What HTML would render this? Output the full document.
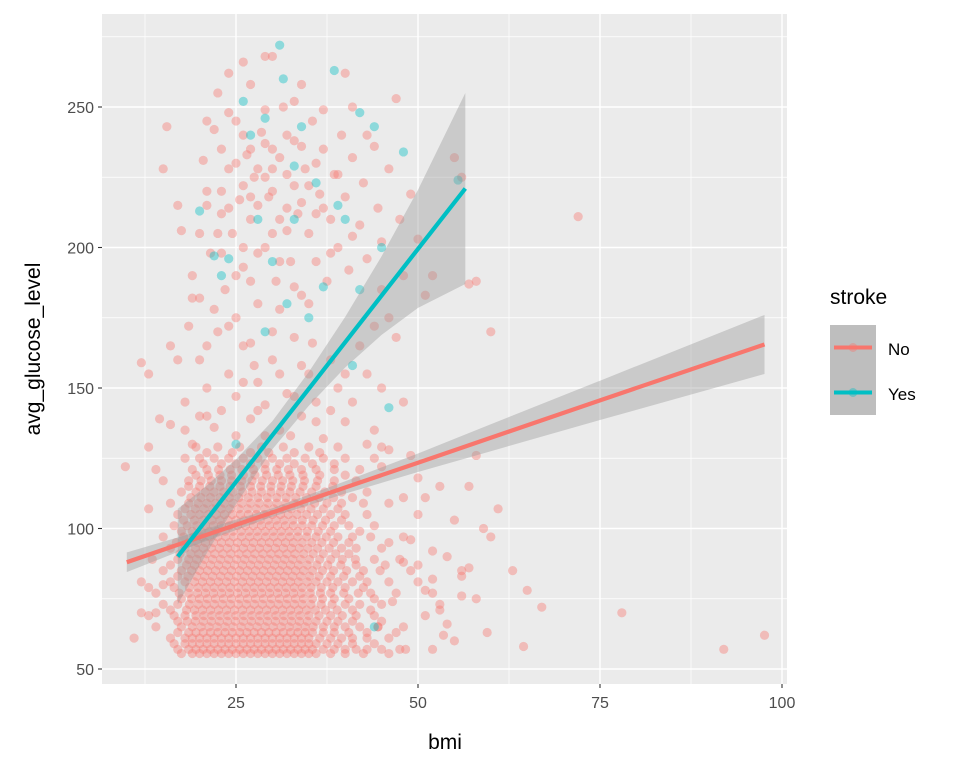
<!DOCTYPE html>
<html><head><meta charset="utf-8">
<style>
body{margin:0;background:#fff;}
svg{display:block;font-family:"Liberation Sans",Arial,sans-serif;}
</style></head>
<body>
<svg id="chart" width="960" height="768" viewBox="0 0 960 768">
  <rect x="102" y="14" width="685" height="670" fill="#EBEBEB"/>
  <g id="grid"></g>
  <g id="pts"></g>
  <g id="smooth"></g>
  <g id="axes"></g>
  <text x="445" y="749" text-anchor="middle" font-size="21" fill="#000">bmi</text>
  <text transform="translate(40,349) rotate(-90)" text-anchor="middle" font-size="21" fill="#000">avg_glucose_level</text>
  <g>
    <text x="830" y="304" font-size="21" fill="#000">stroke</text>
    <g>
      <rect x="830" y="325" width="46" height="45" fill="#BEBEBE"/>
      <circle cx="853" cy="347.5" r="4.5" fill="#F8766D" fill-opacity="0.4"/>
      <line x1="834" y1="347.5" x2="872" y2="347.5" stroke="#F8766D" stroke-width="4"/>
      <text x="888" y="355" font-size="17" fill="#000">No</text>
    </g>
    <g>
      <rect x="830" y="370" width="46" height="45" fill="#BEBEBE"/>
      <circle cx="853" cy="392.5" r="4.5" fill="#00BFC4" fill-opacity="0.4"/>
      <line x1="834" y1="392.5" x2="872" y2="392.5" stroke="#00BFC4" stroke-width="4"/>
      <text x="888" y="400" font-size="17" fill="#000">Yes</text>
    </g>
  </g>
</svg>
<script>
const xTicks=[25,50,75,100];
const xMinor=[12.5,37.5,62.5,87.5];
const yTicks=[50,100,150,200,250];
const yMinor=[75,125,175,225,275];
// dense core rows: glucose value -> list of bmi values
const coreRows="57:17,18.5,19.5,20.5,21.5,22.5,23.5,24.5,25.5,26.5,27.5,28.5,29.5,30.5,31.5,32.5,33.5,34.5,35.5,37,38.5,40,41.5,43,45,47.5|61:16,18,19,20,21,22,23,24,25,26,27,28,29,30,31,32,33,34,35,36.5,38,39.5,41,43,46|65:14,17.5,19,20.2,21.3,22.4,23.5,24.6,25.7,26.8,27.9,29,30.1,31.2,32.3,33.4,34.5,35.6,37,38.5,40,42,44.5,48|69:13,16.5,18,19.5,20.6,21.7,22.8,23.9,25,26.1,27.2,28.3,29.4,30.5,31.6,32.7,33.8,35,36.4,38,39.6,41.5,44,51|73:15,17,18.6,19.8,20.9,22,23.1,24.2,25.3,26.4,27.5,28.6,29.7,30.8,31.9,33,34.1,35.3,36.7,38.2,40,42,45,53|77:14,17.2,18.5,19.7,20.8,21.9,23,24.1,25.2,26.3,27.4,28.5,29.6,30.7,31.8,32.9,34,35.2,36.6,38,39.8,41.8,43.5,47,52|81:12,16,18,19.3,20.4,21.5,22.6,23.7,24.8,25.9,27,28.1,29.2,30.3,31.4,32.5,33.6,34.8,36,37.5,39,41,43,46,50|85:15,17.5,18.9,20,21.1,22.2,23.3,24.4,25.5,26.6,27.7,28.8,29.9,31,32.1,33.2,34.3,35.5,36.9,38.4,40.2,42.5,44.8,49,56|89:13.5,17,18.5,19.6,20.7,21.8,22.9,24,25.1,26.2,27.3,28.4,29.5,30.6,31.7,32.8,33.9,35.1,36.5,38,39.6,41.4,44,47.5|93:16,18,19.4,20.5,21.6,22.7,23.8,24.9,26,27.1,28.2,29.3,30.4,31.5,32.6,33.7,34.9,36.2,37.8,39.5,41.5,45|97:15,17.8,19.2,20.3,21.4,22.5,23.6,24.7,25.8,26.9,28,29.1,30.2,31.3,32.4,33.5,34.7,36,37.4,39,41,43.5,48|101:16.5,18.3,19.6,20.8,21.9,23,24.1,25.2,26.3,27.4,28.5,29.6,30.7,31.8,32.9,34.1,35.4,36.9,38.5,40.5,44|105:17,18.8,20,21.2,22.3,23.4,24.5,25.6,26.7,27.8,28.9,30,31.1,32.2,33.4,34.7,36.2,38,40,43|109:16,18.5,19.8,21,22.2,23.4,24.6,25.8,27,28.2,29.4,30.6,31.8,33,34.3,35.8,37.5,39.5,42.5,46|113:17.5,19.5,20.8,22,23.3,24.6,25.9,27.2,28.5,29.8,31.1,32.4,33.8,35.4,37.2,39.5,43|117:15,18.5,20.2,21.6,23,24.4,25.8,27.2,28.6,30,31.4,32.8,34.4,36.2,38.5,41.5|121:14,19,21,22.6,24.2,25.8,27.4,29,30.6,32.2,34,36,38.5,42|125:18,20,22,24,26,28,30,32,34.5,37,40,44|129:13,19.5,22.5,25.5,28.5,31.5,35,39,45";
const coreRows2="55.5:17.5,19,20,21,22,23,24,25,26,27,28,29,30,31,32,33,34,35,36,38,40,42.5,46|59:16.5,18,19,20,21,22,23,24,25,26,27,28,29,30,31,32,33,34,35,36,37.5,39,41,44|63:17,18.5,19.5,20.5,21.5,22.5,23.5,24.5,25.5,26.5,27.5,28.5,29.5,30.5,31.5,32.5,33.5,34.5,35.5,37,38.5,40.5,43|67:17,18.3,19.4,20.5,21.6,22.7,23.8,24.9,26,27.1,28.2,29.3,30.4,31.5,32.6,33.7,34.8,36,37.5,39,41,45|71:16,18.2,19.3,20.4,21.5,22.6,23.7,24.8,25.9,27,28.1,29.2,30.3,31.4,32.5,33.6,34.7,35.9,37.3,38.9,41,43.5|75:17.5,18.9,20,21.1,22.2,23.3,24.4,25.5,26.6,27.7,28.8,29.9,31,32.1,33.2,34.3,35.5,36.9,38.5,40.5,44|79:16.5,18.6,19.8,20.9,22,23.1,24.2,25.3,26.4,27.5,28.6,29.7,30.8,31.9,33,34.1,35.3,36.7,38.3,40,42.5|83:17,18.4,19.6,20.7,21.8,22.9,24,25.1,26.2,27.3,28.4,29.5,30.6,31.7,32.8,33.9,35.1,36.4,38,39.8,42|87:16,18.2,19.3,20.4,21.5,22.6,23.7,24.8,25.9,27,28.1,29.2,30.3,31.4,32.5,33.6,34.8,36.1,37.6,39.4,41.5,45.5|91:17.3,18.8,19.9,21,22.1,23.2,24.3,25.4,26.5,27.6,28.7,29.8,30.9,32,33.1,34.3,35.6,37,38.7,40.5|95:16.8,18.5,19.7,20.8,21.9,23,24.1,25.2,26.3,27.4,28.5,29.6,30.7,31.8,32.9,34.1,35.4,36.8,38.4,40.5,46|99:17.5,19,20.2,21.3,22.4,23.5,24.6,25.7,26.8,27.9,29,30.1,31.2,32.3,33.5,34.8,36.3,38,42|103:17.8,19.3,20.5,21.7,22.8,23.9,25,26.1,27.2,28.3,29.4,30.5,31.6,32.8,34.1,35.6,37.3,39.5|107:18,19.4,20.6,21.8,23,24.2,25.4,26.6,27.8,29,30.2,31.4,32.6,33.9,35.3,37,39|111:18.8,20.2,21.5,22.8,24.1,25.4,26.7,28,29.3,30.6,31.9,33.2,34.7,36.4,38.4,41|115:18.5,20,21.4,22.8,24.2,25.6,27,28.4,29.8,31.2,32.6,34.2,36,38.3|119:19.5,21.2,22.8,24.4,26,27.6,29.2,30.8,32.4,34.2,36.5,40|123:20.5,23,25,27,29,31,33,35.5,38.5|127:21,24.5,27,29.5,33,36.5";
const noScatter="9.8,122;11,61;12,70;13,79;14,70;13,107;15,80;48,88;49,96;50,87;51,78;52,92;53,71;54,66;55,60;56,83;57,86;58,75;59,100;60,97;61,107;56,76;57,115;58,126;55,103;49,126;50,105;53,115;52,82;54,90;63,85;64.5,58;65,78;67,72;78,70;92,57;97.6,62;46.5,74;47,63;44.5,65;51,111;48,111;50,118;45,122;59.5,63;53.5,62;48.3,57;52,57;14.5,139;16,137;18,145;19,130;20,160;21,150;22,136;23,142;24,155;25,147;26,165;27,139;28,152;29,144;30,160;31,135;32,148;33,168;34,140;35,155;36,145;37,132;38,160;39,150;40,138;41,145;42,165;43,155;44,135;45,150;46,128;47,168;48,145;60,170;17,160;18.5,172;20,140;22.5,170;25,133;27.5,158;30,170;32.5,133;35.5,166;38,142;12,159;13,155;16,165;21,165;26,152;29,133;34,158;44,172;57,187;46,175;15,228;15.5,243;17,215;17.5,206;19,190;20,205;20.5,231;21,220;21.5,198;22,242;22.5,255;23,212;23.5,185;24,228;24.5,205;25,245;25.5,217;26,193;26.5,233;27,210;27.5,225;28,180;28.5,241;29,200;29.5,218;30,235;30.5,188;31,210;31.5,250;32,226;32.5,195;33,238;33.5,212;34,183;34.5,228;35,205;35.5,245;36,195;36.5,219;37,235;37.5,188;38,210;38.5,226;39,200;39.5,240;40,218;40.5,192;41,232;42,208;42.5,223;43,196;44,236;44.5,214;45,202;46,228;47,253;47.5,210;48,190;49,219;50,203;51,183;52,190;55,232;56,225;58,188;72,211;21,245;24,262;26,266;27,258;29,268;30,268;34,258;40,262;23,235;26,200;28,228;30,205;32,240;34,216;36,230;38,198;27,188;22,178;25,175;31,178;35,180;19,182;24,248;29,249;33,252;37,249;41,250;43,240;45,185;23,220;25,230;27,235;29,225;31,232;33,222;28,215;30,220;32,214;26,240;21,215;20,182;22.5,205;24,214;26,222;28,198;30,228;32,206;34,236;36,212;23,198;25,190;27,218;29,237;31,195;33,186;35,222;37,214;39,226;41,204;24,172;27,166;31,155;36,138;28,142;33,147;21,140;18,135;40,155;43,130";
const yesScatter="31,272;31.5,260;38.5,263;20,213;22,197;44,243;42,248;48,234;55.5,224;45,200;40,210;36,223;27,240;33,229;29,170;35,175;46,143;44,65;25,130;30,195;37,186;24,196;41,158;33,210;26,252;28,210;23,190;34,243;39,215;42,185;29,246;32,180";
// smooth fits
const noFitX=[10,20,30,40,50,60,75,97.6];
const noFitY=[88,96.9,105.7,114.6,123.4,132.3,145.6,165.5];
const noSE=[3.5,2.2,1.5,2.2,3.3,4.8,7,10.5];
const yesFitX=[17,21,25,30,35,40,45,50,56.5];
const yesFitY=[90,103.3,116.6,133.2,149.7,166.3,182.9,199.5,221];
const yesSE=[17,12,8,5,6,9,14,21,34];

const NS="http://www.w3.org/2000/svg";
const X=v=>236+(v-25)*7.28;
const Y=v=>669-(v-50)*2.81;
function mk(tag,attrs,parent){const e=document.createElementNS(NS,tag);for(const k in attrs)e.setAttribute(k,attrs[k]);parent.appendChild(e);return e;}
const grid=document.getElementById('grid');
xMinor.forEach(v=>{const l=mk('line',{x1:X(v),x2:X(v),y1:14,y2:684,stroke:'#fff','stroke-width':0.7},grid);

});
yMinor.forEach(v=>{const l=mk('line',{x1:102,x2:787,y1:Y(v),y2:Y(v),stroke:'#fff','stroke-width':0.7},grid);

});
xTicks.forEach(v=>{const l=mk('line',{x1:X(v),x2:X(v),y1:14,y2:684,stroke:'#fff','stroke-width':1.4},grid);

});
yTicks.forEach(v=>{const l=mk('line',{x1:102,x2:787,y1:Y(v),y2:Y(v),stroke:'#fff','stroke-width':1.4},grid);

});
const axes=document.getElementById('axes');
xTicks.forEach(v=>{mk('line',{x1:X(v),x2:X(v),y1:684,y2:688,stroke:'#333','stroke-width':1.1},axes);
const t=mk('text',{x:X(v),y:708,'text-anchor':'middle','font-size':16,fill:'#4D4D4D'},axes);t.textContent=v;

});
yTicks.forEach(v=>{mk('line',{x1:98,x2:102,y1:Y(v),y2:Y(v),stroke:'#333','stroke-width':1.1},axes);
const t=mk('text',{x:94,y:Y(v)+6,'text-anchor':'end','font-size':16,fill:'#4D4D4D'},axes);t.textContent=v;

});
const pts=document.getElementById('pts');
function dot(x,y,c,name){const p=mk('circle',{cx:X(x),cy:Y(y),r:4.6,fill:c,'fill-opacity':0.4},pts);

}
[coreRows,coreRows2].forEach(str=>str.split('|').forEach(r=>{const [g,xs]=r.split(':');xs.split(',').forEach(x=>dot(+x,+g,'#F8766D','point-no'));}));
noScatter.split(';').forEach(s=>{const [x,y]=s.split(',');dot(+x,+y,'#F8766D','point-no');});
yesScatter.split(';').forEach(s=>{const [x,y]=s.split(',');dot(+x,+y,'#00BFC4','point-yes');});
const sm=document.getElementById('smooth');
function ribbon(xs,ys,se,name){let d='M'+xs.map((x,i)=>X(x)+','+Y(ys[i]+se[i])).join('L');
for(let i=xs.length-1;i>=0;i--)d+='L'+X(xs[i])+','+Y(ys[i]-se[i]);d+='Z';
const p=mk('path',{d:d,fill:'#999999','fill-opacity':0.4},sm);

}
function line(xs,ys,c,name){const p=mk('polyline',{points:xs.map((x,i)=>X(x)+','+Y(ys[i])).join(' '),fill:'none',stroke:c,'stroke-width':4.2},sm);

}
ribbon(noFitX,noFitY,noSE,'confidence-band-no');
ribbon(yesFitX,yesFitY,yesSE,'confidence-band-yes');
line(noFitX,noFitY,'#F8766D','trend-line-no');
line(yesFitX,yesFitY,'#00BFC4','trend-line-yes');
</script>
</body></html>
